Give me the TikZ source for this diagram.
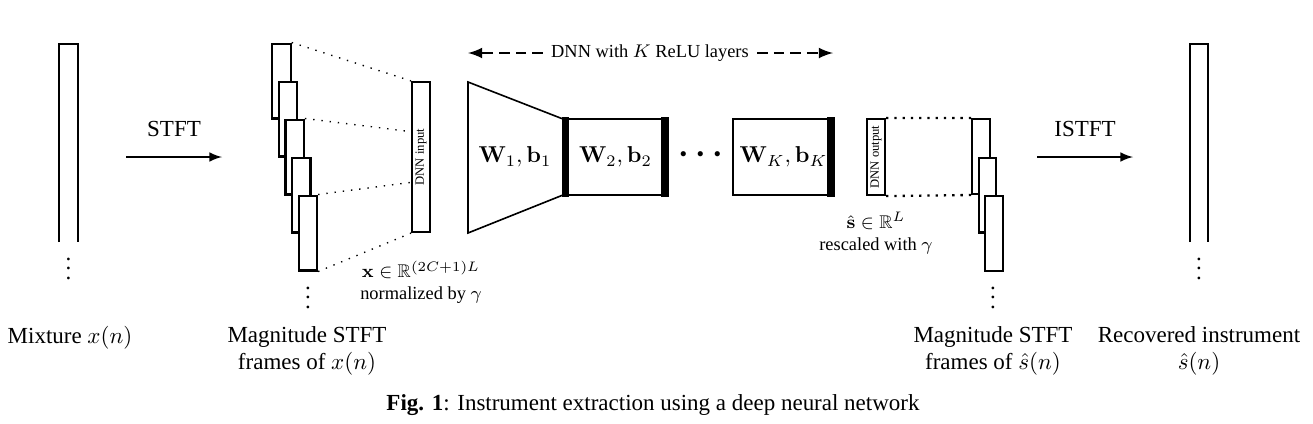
\documentclass[tikz,border=0pt]{standalone}
\usepackage[no-math]{fontspec}
\setmainfont{Liberation Serif}
\usepackage{amsmath}
\usepackage{amssymb}
\usepackage{tikz}
\usetikzlibrary{calc}

\tikzset{
  bar/.style={line width=0.9pt},
  stftframe/.style={draw,line width=0.9pt,fill=white,inner sep=0pt,minimum width=8pt,minimum height=32.6pt},
  dnnbox/.style={draw,line width=0.9pt,inner sep=0pt,minimum width=7.8pt},
  layer/.style={draw,line width=0.9pt,inner sep=0pt,minimum height=33.1pt},
  relu/.style={fill=black},
  vdotsnode/.style={inner sep=0pt},
  tinytxt/.style={font=\fontsize{5.5}{6}\selectfont,inner sep=0pt},
  smalltxt/.style={font=\footnotesize,align=center,inner sep=0pt},
  maintxt/.style={align=center,inner sep=0pt},
  dotline/.style={line width=0.6pt,dash pattern=on 0.6pt off 3pt},
  dotlineb/.style={line width=1pt,dash pattern=on 1pt off 2.6pt},
  trans/.style={line width=0.9pt,-latex},
  dnnarrow/.style={line width=1.1pt,dash pattern=on 4.6pt off 2.6pt,-latex},
}

\begin{document}
\begin{tikzpicture}[x=0.435pt,y=-0.435pt]
\useasboundingbox (0,0) rectangle (1313,423);
% mixture
\draw[bar] (59,242) -- (59,44) -- (78,44) -- (78,242);
\node[vdotsnode] (mixdots) at (68.5,262) {$\vdots$};
\coordinate (stfta) at (126,157);
\coordinate (stftb) at (222,157);
\draw[trans] (stfta) -- (stftb) node[midway,above=5pt] {STFT};
% input frames
\foreach \i in {0,...,4}
  \node[stftframe] (f\i) at ({281.5+6.6*\i},{81+38*\i}) {};
\node[vdotsnode] (indots) at (308,291) {$\vdots$};
\node[dnnbox,minimum height=65.3pt] (in) at (421,157) {};
\node[tinytxt,rotate=90] at (in.center) {DNN input};
\coordinate (in1) at ($(in.north west)!1/3!(in.south west)$);
\coordinate (in2) at ($(in.north west)!2/3!(in.south west)$);
\draw[dotline] (f0.north east) -- (in.north west);
\draw[dotline] (f2.north east) -- (in1);
\draw[dotline] (f4.north east) -- (in2);
\draw[dotline] (f4.south east) -- (in.south west);
\node[smalltxt] (xlab) at (421,282) {$\mathbf{x}\in\mathbb{R}^{(2C+1)L}$\\normalized by $\gamma$};
% DNN
\coordinate (dnna) at (468,53);
\coordinate (dnnb) at (833,53);
\node[smalltxt,inner sep=3.5pt] (dnnlab) at (650,53) {DNN with $K$ ReLU layers};
\draw[dnnarrow] (dnnlab.west) -- (dnna);
\draw[dnnarrow] (dnnlab.east) -- (dnnb);
\draw[line width=0.7pt] (468,82) -- (563,119) -- (563,195) -- (468,233) -- cycle;
\node (l1) at (515,157) {$\mathbf{W}_1,\mathbf{b}_1$};
\node[layer,minimum width=45.7pt] (l2) at (615.5,157) {$\mathbf{W}_2,\mathbf{b}_2$};
\node[font=\Large] (ldots) at (704,155) {$\boldsymbol{\cdots}$};
\node[layer,minimum width=43.9pt] (lK) at (783.5,157) {$\mathbf{W}_K,\mathbf{b}_K$};
\fill[relu] ([yshift=0.45pt]l2.north west) rectangle ($([yshift=-0.45pt]l2.south west)+(7,0)$);
\fill[relu] ([yshift=0.45pt]l2.north east) rectangle ($([yshift=-0.45pt]l2.south east)+(-8,0)$);
\fill[relu] ([yshift=0.45pt]lK.north east) rectangle ($([yshift=-0.45pt]lK.south east)+(-8,0)$);
\node[dnnbox,minimum height=33.1pt] (out) at (876,157) {};
\node[tinytxt,rotate=90] at (out.center) {DNN output};
\node[smalltxt] (slab) at (876,233) {$\hat{\mathbf{s}}\in\mathbb{R}^{L}$\\rescaled with $\gamma$};
% output frames
\foreach \i in {0,...,2}
  \node[stftframe,minimum width=7.6pt] (g\i) at ({981+6.5*\i},{156.5+38.5*\i}) {};
\draw[dotlineb] (out.north east) -- (g0.north west);
\draw[dotlineb] (out.south east) -- (g0.south west);
\node[vdotsnode] (outdots) at (993,291) {$\vdots$};
% recovered
\coordinate (istfta) at (1037,157);
\coordinate (istftb) at (1133,157);
\draw[trans] (istfta) -- (istftb) node[midway,above=5pt] {ISTFT};
\draw[bar] (1190,242) -- (1190,44) -- (1208,44) -- (1208,242);
\node[vdotsnode] (recdots) at (1199,262) {$\vdots$};
% labels
\node[maintxt] (mixlab) at (70,338) {Mixture $x(n)$};
\node[maintxt] (maglab) at (307,351) {Magnitude STFT\\frames of $x(n)$};
\node[maintxt] (smaglab) at (993,351) {Magnitude STFT\\frames of $\hat{s}(n)$};
\node[maintxt] (reclab) at (1199,351) {Recovered instrument\\$\hat{s}(n)$};
\node[maintxt] (caption) at (653,405) {\textbf{Fig. 1}: Instrument extraction using a deep neural network};
\end{tikzpicture}
\end{document}
